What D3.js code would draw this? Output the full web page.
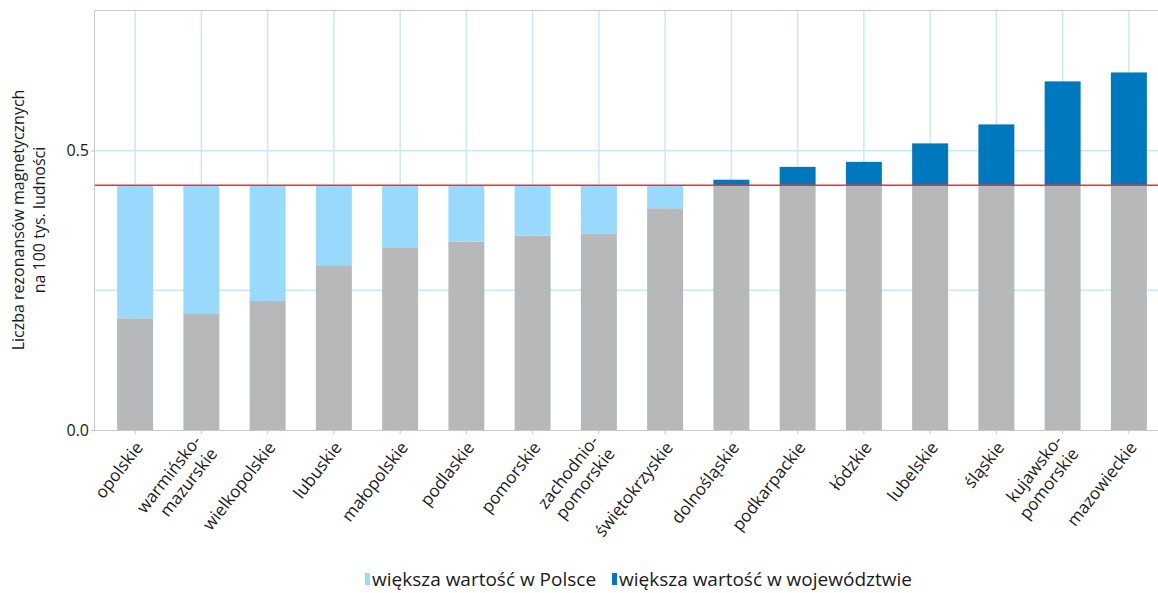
<!DOCTYPE html>
<html>
<head>
<meta charset="utf-8">
<script src="https://cdn.jsdelivr.net/npm/d3@7"></script>
<style>
  html, body { margin: 0; padding: 0; background: #fff; }
  svg { display: block; font-family: "Open Sans", "Noto Sans", sans-serif; }
</style>
</head>
<body>
<svg id="chart" width="1158" height="593"></svg>
<script>
// ---- data ----
const categories = ["opolskie", "warmińsko-\nmazurskie", "wielkopolskie", "lubuskie", "małopolskie",
  "podlaskie", "pomorskie", "zachodnio-\npomorskie", "świętokrzyskie", "dolnośląskie",
  "podkarpackie", "łódzkie", "lubelskie", "śląskie", "kujawsko-\npomorskie", "mazowieckie"];
const values = [0.200, 0.209, 0.231, 0.295, 0.327, 0.337, 0.348, 0.351, 0.397, 0.448,
  0.471, 0.480, 0.513, 0.547, 0.624, 0.640];
const nationalValue = 0.438;
const yTickValues = [0.0, 0.5];
const yGridValues = [0.25, 0.5];
const legendLabels = ["większa wartość w Polsce", "większa wartość w województwie"];
const yTitleLines = ["Liczba rezonansów magnetycznych", "na 100 tys. ludności"];

// ---- styles ----
const cGrey = "#b7b8ba", cLight = "#99d9fc", cDark = "#0078bd", cRed = "#ff2b2b",
      cGrid = "#c9e8fb", cAxis = "#c8c8c8", cText = "#1a1a1a";

const svg = d3.select("#chart");
const plot = { left: 95, right: 1158, top: 11, bottom: 430 };

const x = d3.scaleBand().domain(categories).range([102, 1162]).paddingInner(0.457).paddingOuter(0.2285);
const y = d3.scaleLinear().domain([0, 0.75]).range([plot.bottom, plot.top]);

// horizontal gridlines
svg.append("g").selectAll("line").data(yGridValues).join("line")
  .attr("x1", plot.left).attr("x2", plot.right)
  .attr("y1", d => y(d)).attr("y2", d => y(d))
  .attr("stroke", cGrid).attr("stroke-width", 1.5);

// vertical gridlines
svg.append("g").selectAll("line").data(categories).join("line")
  .attr("x1", d => x(d) + x.bandwidth() / 2).attr("x2", d => x(d) + x.bandwidth() / 2)
  .attr("y1", plot.top).attr("y2", plot.bottom)
  .attr("stroke", cGrid).attr("stroke-width", 1.5);

// top border
svg.append("line").attr("x1", plot.left).attr("x2", plot.right)
  .attr("y1", plot.top - 0.5).attr("y2", plot.top - 0.5)
  .attr("stroke", cAxis).attr("stroke-width", 1);

const rows = categories.map((c, i) => ({ c, v: values[i] }));

// grey base bars
svg.append("g").selectAll("rect").data(rows).join("rect")
  .attr("x", d => x(d.c)).attr("width", x.bandwidth())
  .attr("y", d => y(Math.min(d.v, nationalValue)))
  .attr("height", d => y(0) - y(Math.min(d.v, nationalValue)))
  .attr("fill", cGrey);

// light blue (national larger)
svg.append("g").selectAll("rect").data(rows.filter(d => d.v < nationalValue)).join("rect")
  .attr("x", d => x(d.c)).attr("width", x.bandwidth())
  .attr("y", y(nationalValue))
  .attr("height", d => y(d.v) - y(nationalValue))
  .attr("fill", cLight);

// dark blue (region larger)
svg.append("g").selectAll("rect").data(rows.filter(d => d.v > nationalValue)).join("rect")
  .attr("x", d => x(d.c)).attr("width", x.bandwidth())
  .attr("y", d => y(d.v))
  .attr("height", d => y(nationalValue) - y(d.v))
  .attr("fill", cDark);

// red national line
svg.append("line").attr("x1", plot.left).attr("x2", plot.right)
  .attr("y1", y(nationalValue)).attr("y2", y(nationalValue))
  .attr("stroke", cRed).attr("stroke-width", 1.6);

// y axis
const yAxis = svg.append("g").attr("transform", `translate(${plot.left},0)`)
  .call(d3.axisLeft(y).tickValues(yTickValues).tickFormat(d3.format(".1f")).tickSize(4).tickPadding(2));
yAxis.select(".domain").attr("stroke", cAxis).attr("d", `M-0.5,${plot.top}V${plot.bottom}`);
yAxis.selectAll(".tick line").attr("stroke", cAxis);
yAxis.selectAll(".tick text").attr("fill", cText).style("font-size", "16px").style("font-family", "'Open Sans', sans-serif");

// x axis
const xAxis = svg.append("g").attr("transform", `translate(0,${plot.bottom})`)
  .call(d3.axisBottom(x).tickSize(4).tickFormat(""));
xAxis.select(".domain").attr("stroke", cAxis).attr("d", `M${plot.left},0.5H${plot.right}`);
xAxis.selectAll(".tick line").attr("stroke", cAxis);

// rotated category labels
const labelG = svg.append("g");
categories.forEach(c => {
  const lines = c.split("\n");
  const cx = x(c) + x.bandwidth() / 2;
  const t = labelG.append("text")
    .attr("transform", `translate(${cx + 4},${plot.bottom + 14}) rotate(-52)`)
    .attr("text-anchor", "end")
    .attr("fill", cText)
    .style("font-size", "17px");
  lines.forEach((ln, k) => {
    t.append("tspan").attr("x", 0)
      .attr("dy", k === 0 ? (lines.length > 1 ? "-0.25em" : "0.35em") : "1.2em")
      .text(ln);
  });
});

// y title
const yt = svg.append("text")
  .attr("transform", `translate(24,220) rotate(-90)`)
  .attr("text-anchor", "middle").attr("fill", cText)
  .style("font-size", "16px");
yTitleLines.forEach((ln, k) => {
  yt.append("tspan").attr("x", 0).attr("dy", k === 0 ? "0em" : "1.3em").text(ln);
});

// legend
const legendColors = [cLight, cDark];
const legendX = [365, 612];
legendLabels.forEach((lab, i) => {
  svg.append("rect").attr("x", legendX[i]).attr("y", 573).attr("width", 5).attr("height", 12)
    .attr("fill", legendColors[i]);
  svg.append("text").attr("x", legendX[i] + 7).attr("y", 586)
    .attr("fill", cText).style("font-size", "19px").text(lab);
});
</script>
</body>
</html>
